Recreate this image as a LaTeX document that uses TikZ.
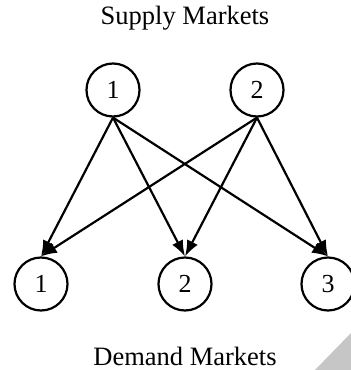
\documentclass[tikz,border=0pt]{standalone}
\usepackage{fontspec}
\setmainfont{Liberation Serif}
\usetikzlibrary{arrows.meta}
\begin{document}
\begin{tikzpicture}[x=1pt,y=-1pt,
  market/.style={circle,draw,line width=2.2pt,minimum size=53pt,inner sep=0pt,font=\fontsize{26}{30}\selectfont},
  title/.style={font=\fontsize{26.5}{30}\selectfont},
  flow/.style={line width=2.2pt,-{Latex[length=16pt,width=12pt]}}]
\useasboundingbox (0,0) rectangle (351,370);
\fill[gray!45] (315,370) -- (351,333) -- (351,370) -- cycle;
\node[title] (st) at (185,18) {Supply Markets};
\node[title] (dt) at (185,356) {Demand Markets};
\node[market] (s1) at (113,90) {1};
\node[market] (s2) at (257,90) {2};
\node[market] (d1) at (41,284) {1};
\node[market] (d2) at (185,284) {2};
\node[market] (d3) at (328,284) {3};
\foreach \s in {s1,s2}
  \foreach \d in {d1,d2,d3}
    \draw[flow] (\s.south) -- (\d.north);
\end{tikzpicture}
\end{document}
